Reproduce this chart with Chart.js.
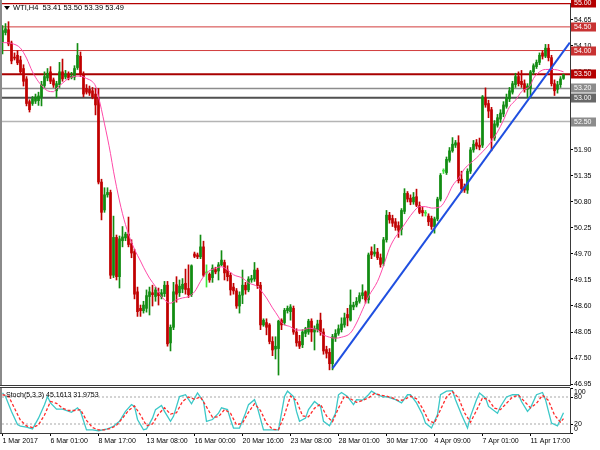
<!DOCTYPE html>
<html><head><meta charset="utf-8">
<script src="https://cdn.jsdelivr.net/npm/chart.js@4.4.1/dist/chart.umd.min.js"></script>
<style>
html,body{margin:0;padding:0;background:#fff;width:600px;height:450px;overflow:hidden;}
#wrap{position:relative;width:600px;height:450px;font-family:"Liberation Sans",Arial,sans-serif;}
canvas{position:absolute;left:0;}
#main{top:0;}
#stoch{top:378px;}
.lbl{position:absolute;color:#000;white-space:pre;line-height:10px;}
#tri{position:absolute;left:4px;top:6px;width:0;height:0;border-left:3px solid transparent;border-right:3px solid transparent;border-top:4px solid #000;}
</style></head><body>
<div id="wrap">
<canvas id="main" width="600" height="390"></canvas>
<canvas id="stoch" width="600" height="72"></canvas>
<div id="tri"></div>
<div class="lbl" id="hdr" style="left:13px;top:3px;font-size:7.5px;"></div>
<div class="lbl" id="stlbl" style="left:6px;top:389.5px;font-size:7px;"></div>
</div>
<script>
// ---------------- DATA ----------------
const symbolName = 'WTI,H4';
const opens = [
54.19,54.38,54.44,54.16,53.86,53.90,53.80,53.62,53.40,52.92,
52.88,52.93,52.94,53.02,53.26,53.42,53.55,53.38,53.15,53.28,
53.55,53.44,53.50,53.43,53.44,53.64,53.88,53.50,53.20,53.18,
53.15,53.08,53.00,51.22,50.63,50.95,51.00,49.25,50.05,49.22,
49.98,50.04,50.12,49.92,49.75,48.90,48.55,48.50,48.55,48.80,
48.88,48.80,48.88,48.80,48.86,49.04,47.82,48.15,49.05,48.88,
48.96,49.08,48.97,48.84,49.70,49.68,49.64,49.85,49.30,49.27,
49.20,49.37,49.34,49.47,49.52,49.36,49.25,49.00,48.92,48.60,
48.83,49.04,48.94,49.15,49.17,49.36,49.04,48.20,48.25,48.20,
47.85,47.69,47.70,48.30,48.25,48.50,48.48,48.55,48.05,47.85,
47.78,48.02,48.05,48.28,48.05,48.10,48.30,48.05,47.68,47.62,
47.38,47.92,48.02,48.10,48.20,48.42,48.30,48.58,48.62,48.70,
48.82,48.90,48.73,49.75,49.70,49.74,49.62,49.50,50.00,50.52,
50.45,50.38,50.30,50.22,50.60,50.98,50.88,50.80,50.91,50.72,
50.62,50.56,50.50,50.45,50.28,50.44,50.86,51.45,51.42,51.68,
51.88,52.00,52.05,51.28,51.12,51.05,51.45,51.90,52.05,52.00,
52.00,53.00,52.88,52.75,52.15,52.42,52.55,52.66,52.82,52.98,
53.12,53.28,53.45,53.35,53.30,53.18,53.20,53.55,53.66,53.75,
53.95,53.88,54.05,53.85,53.30,53.18,53.28,53.41];
const highs = [
54.53,54.57,54.61,54.20,53.95,54.00,53.88,53.70,53.45,52.96,
53.03,53.08,53.12,53.35,53.55,53.62,53.66,53.42,53.35,53.75,
53.82,53.58,53.55,53.54,53.68,54.15,53.97,53.55,53.28,53.25,
53.22,53.20,53.20,51.28,51.10,51.10,51.05,50.50,50.10,50.08,
50.28,50.16,50.48,50.00,49.80,49.00,48.62,48.70,48.94,49.00,
49.04,49.00,48.98,48.95,49.12,49.12,48.20,49.10,49.22,49.15,
49.18,49.38,49.47,49.47,49.74,49.72,50.10,49.97,49.47,49.30,
49.47,49.42,49.52,49.77,49.57,49.45,49.30,49.08,48.97,48.90,
49.36,49.10,49.22,49.25,49.52,49.40,49.10,48.33,48.33,48.23,
47.95,47.95,48.30,48.33,48.55,48.60,48.63,48.60,48.12,47.98,
48.10,48.15,48.32,48.33,48.18,48.30,48.45,48.12,47.75,47.70,
48.00,48.10,48.20,48.35,48.45,48.55,48.94,48.68,48.78,48.88,
49.05,48.92,49.72,49.85,49.90,49.82,49.70,50.05,50.62,50.58,
50.52,50.45,50.38,50.66,51.08,51.02,50.95,51.00,51.07,50.80,
50.70,50.62,50.55,50.50,50.48,50.90,51.40,51.50,51.75,51.95,
52.16,52.10,52.20,51.45,51.18,51.50,51.95,52.10,52.12,52.15,
53.05,53.21,52.95,52.80,52.52,52.65,52.75,52.92,53.08,53.22,
53.35,53.52,53.55,53.58,53.38,53.30,53.58,53.72,53.80,53.95,
54.00,54.13,54.13,53.90,53.38,53.35,53.45,53.50];
const lows = [
53.93,54.33,54.10,53.72,53.80,53.70,53.50,53.25,52.83,52.70,
52.84,52.88,52.84,52.83,53.22,53.36,53.30,53.22,53.00,53.22,
53.35,53.40,53.38,53.40,53.38,53.60,53.45,53.02,53.08,53.05,
52.98,52.64,51.18,50.42,50.58,50.90,49.18,49.20,49.15,48.98,
49.85,49.98,49.85,49.62,48.75,48.38,48.38,48.45,48.47,48.41,
48.60,48.70,48.62,48.75,48.80,47.75,47.65,48.10,48.68,48.80,
48.88,48.85,48.78,48.80,49.62,49.60,49.60,49.22,49.00,49.10,
49.10,49.28,49.15,49.45,49.15,49.13,48.83,48.85,48.55,48.45,
48.65,48.85,48.90,49.10,49.12,48.97,48.10,48.17,47.99,47.80,
47.55,47.48,47.14,48.10,48.20,48.45,48.30,48.00,47.75,47.70,
47.72,47.95,48.00,47.85,47.67,48.05,47.98,47.58,47.50,47.25,
47.25,47.85,47.98,48.05,48.15,48.18,48.28,48.52,48.58,48.66,
48.75,48.66,48.66,49.60,49.65,49.58,49.42,49.45,49.95,50.35,
50.28,50.20,50.05,50.10,50.55,50.80,50.74,50.75,50.70,50.55,
50.50,50.50,50.30,50.22,50.14,50.40,50.82,51.40,51.38,51.64,
51.85,51.95,51.20,51.00,51.00,50.98,51.40,51.85,51.92,51.90,
51.95,52.80,52.58,51.88,52.10,52.38,52.48,52.60,52.78,52.92,
53.08,53.22,53.25,53.22,53.12,53.00,53.00,53.50,53.62,53.70,
53.82,53.85,53.78,53.25,53.05,53.10,53.22,53.39];
const closes = [
54.42,54.46,54.14,53.78,53.84,53.74,53.55,53.35,52.88,52.75,
52.98,53.02,53.04,53.28,53.45,53.52,53.35,53.27,53.30,53.55,
53.40,53.50,53.42,53.46,53.62,53.90,53.50,53.08,53.12,53.10,
53.02,52.85,51.22,50.58,50.95,51.00,49.25,50.05,49.22,50.02,
50.06,50.12,49.90,49.72,48.85,48.48,48.50,48.62,48.82,48.90,
48.84,48.94,48.82,48.88,49.04,47.80,48.15,48.90,48.85,49.02,
49.06,48.95,48.84,49.45,49.65,49.64,49.85,49.25,49.30,49.15,
49.40,49.32,49.47,49.57,49.30,49.22,48.94,48.92,48.60,48.83,
49.04,48.94,49.17,49.18,49.36,49.03,48.20,48.30,48.15,47.85,
47.67,47.75,48.28,48.20,48.51,48.55,48.58,48.05,47.82,47.75,
48.05,48.12,48.28,48.05,48.12,48.22,48.05,47.65,47.60,47.38,
47.95,48.02,48.12,48.22,48.35,48.35,48.62,48.62,48.70,48.82,
48.88,48.73,49.68,49.68,49.74,49.62,49.48,50.00,50.52,50.42,
50.35,50.26,50.20,50.62,50.98,50.86,50.80,50.90,50.73,50.58,
50.57,50.56,50.38,50.28,50.44,50.86,51.36,51.45,51.70,51.88,
52.02,52.05,51.25,51.08,51.05,51.45,51.90,52.02,51.98,51.96,
53.02,52.85,52.72,52.15,52.45,52.58,52.68,52.85,53.00,53.15,
53.30,53.45,53.30,53.28,53.18,53.25,53.55,53.68,53.75,53.90,
53.88,54.05,53.85,53.30,53.15,53.28,53.40,53.49];

// moving average
const maBars = [0,3,6,8,10,12,14,15,17,18,20,22,25,26,28,30,31,32,33,34,35,36,37,38,39,40,41,42,43,44,45,46,47,49,51,53,56,58,60,62,64,66,67,68,71,73,75,77,80,82,85,86,88,90,92,93,96,98,100,102,105,107,109,111,113,116,118,120,122,125,127,129,131,132,135,137,139,141,143,146,148,150,152,154,156,158,160,162,165,167,169,171,173,176,177,179,181,183,185,187];
const maVals = [54.17,54.15,54.05,53.84,53.55,53.34,53.20,53.15,53.13,53.20,53.31,53.41,53.46,53.46,53.41,53.34,53.25,53.02,52.75,52.45,52.15,51.82,51.45,51.12,50.82,50.55,50.32,50.12,49.95,49.80,49.67,49.55,49.42,49.19,49.01,48.80,48.66,48.73,48.77,48.80,48.90,49.12,49.22,49.30,49.40,49.43,49.36,49.26,49.19,49.09,49.01,48.94,48.77,48.56,48.37,48.25,48.16,48.09,48.09,48.13,48.09,47.99,47.94,47.92,47.94,48.03,48.24,48.52,48.80,49.12,49.45,49.82,50.06,50.14,50.42,50.59,50.70,50.70,50.67,50.70,50.88,51.14,51.30,51.50,51.62,51.73,51.86,52.00,52.28,52.53,52.81,52.95,53.13,53.27,53.41,53.55,53.60,53.60,53.59,53.55];

// trend line (two anchor points)
const trendBars = [110, 189.1];
const trendPrices = [47.28, 54.17];

// horizontal levels
const levelPrices = [55.00, 54.50, 54.00, 53.50, 53.20, 53.00, 52.50];

// price axis ticks
const priceTicks = [46.95, 47.50, 48.05, 48.60, 49.15, 49.70, 50.25, 50.80, 51.35, 51.90, 52.45, 53.00, 53.55, 54.10, 54.65];

// time axis
const xTickBars = [0, 16, 32, 48, 64, 80, 96, 112, 128, 144, 160, 176];
const xTickLabels = ['1 Mar 2017','6 Mar 01:00','8 Mar 17:00','13 Mar 08:00','16 Mar 00:00','20 Mar 16:00','23 Mar 08:00','28 Mar 01:00','30 Mar 17:00','4 Apr 09:00','7 Apr 01:00','11 Apr 17:00'];

// stochastic (5,3,3)
const stochName = 'Stoch(5,3,3)';
const stochLast = [45.1613, 31.9753];
const kBars = [0,1,3,5,6,8,10,12,14,15,16,18,20,23,25,26,28,30,32,35,37,39,41,43,44,45,47,48,50,51,53,54,56,57,59,61,63,65,67,68,70,72,73,75,76,77,79,81,82,84,85,87,90,92,94,95,97,98,99,101,102,104,106,107,109,111,112,113,115,117,118,120,122,123,125,127,128,131,133,135,136,138,140,141,143,145,146,148,150,151,153,155,156,158,159,161,162,165,166,168,170,172,173,175,176,178,180,181,182,183,185,187];
const kVals = [89,81,48,19,15,13,9,33,63,81,67,53,53,46,56,48,7,7,5,9,15,26,48,63,59,30,7,9,33,52,61,48,26,37,81,85,65,89,70,26,30,44,56,52,30,11,11,44,63,74,56,7,7,7,81,93,81,48,26,33,52,70,59,26,16,44,85,90,81,63,74,73,85,93,85,80,81,74,67,85,85,67,41,22,11,41,85,93,94,74,41,11,37,74,89,78,59,44,59,80,85,85,70,48,56,85,90,74,48,22,16,45.16];
const dBars = [0,2,4,6,8,10,12,14,16,18,20,22,24,26,28,30,32,34,36,38,40,42,44,46,48,50,52,54,56,58,60,62,64,66,68,70,72,74,76,78,80,82,84,86,88,90,92,94,96,98,100,102,104,106,108,110,112,114,116,118,120,122,124,126,128,130,132,134,136,138,140,142,144,146,148,150,152,154,156,158,160,162,164,166,168,170,172,174,176,178,180,182,184,186,187];
const dVals = [85,82,55,28,16,12,18,40,70,66,55,50,50,52,28,12,7,7,10,17,33,50,60,40,16,20,42,56,42,45,70,80,75,80,58,35,36,52,44,18,22,46,65,50,22,8,7,40,82,72,38,36,55,64,38,25,55,82,76,68,72,78,88,84,82,78,72,74,82,76,55,28,22,52,80,92,78,45,24,50,78,74,55,52,66,80,84,70,56,66,84,72,40,24,31.98];
const stochLevels = [80, 20];
const stochTicks = [0, 20, 80, 100];

// ---------------- STYLE ----------------
const FONT = '"Liberation Sans", Arial, sans-serif';
const BULL = '#128c12', BEAR = '#c00000', DOJI = '#3ce63c';
const MA_COLOR = '#ff4aa8', TREND_COLOR = '#1f4fe0';
const K_COLOR = '#3cc8c8', D_COLOR = '#ff2a2a';
const levelColors = ['#b40000','#d23c3c','#d23c3c','#a80000','#8c8c8c','#505050','#b4b4b4'];
const levelWidths = [2,1,1,2,1.5,2,1.5];
const boxColors = ['#b40000','#c83232','#c83232','#b40000','#8c8c8c','#686868','#8c8c8c'];
const X_MIN = -1/6, X_MAX = X_MIN + 568/3;
const AXIS_W = 30;

Chart.defaults.font.family = FONT;
Chart.defaults.font.size = 7;
Chart.defaults.color = '#000';

// header texts
const last = opens.length - 1;
document.getElementById('hdr').textContent =
  symbolName + '  ' + [opens[last], highs[last], lows[last], closes[last]].map(v => v.toFixed(2)).join(' ');
document.getElementById('stlbl').textContent =
  stochName + ' ' + stochLast[0].toFixed(4) + ' ' + stochLast[1].toFixed(4);

// ---------------- BUILD ----------------
const idx = opens.map((_, i) => i);
const candleColors = idx.map(i => closes[i] > opens[i] ? BULL : (closes[i] < opens[i] ? BEAR : DOJI));
const wickData = idx.map(i => ({x: i, y: [lows[i], highs[i]]}));
const bodyData = idx.map(i => ({x: i, y: [opens[i], closes[i]]}));
const maData = maBars.map((b, k) => ({x: b, y: maVals[k]}));
const trendData = trendBars.map((b, k) => ({x: b, y: trendPrices[k]}));

const levelSets = levelPrices.map((p, k) => ({
  type: 'line', data: [{x: X_MIN, y: p}, {x: X_MAX, y: p}],
  borderColor: levelColors[k], borderWidth: levelWidths[k], pointRadius: 0, order: 10
}));

const framePlugin = {
  id: 'frame',
  afterDraw(chart, args, opts) {
    const {ctx, chartArea: a} = chart;
    ctx.save();
    ctx.strokeStyle = '#8a8a8a'; ctx.lineWidth = 2;
    ctx.beginPath(); ctx.moveTo(a.left - 1, opts.top ? a.top - 1 : 0); ctx.lineTo(a.left - 1, a.bottom + 1); ctx.stroke();
    ctx.strokeStyle = '#3a3a3a'; ctx.lineWidth = 1;
    ctx.beginPath(); ctx.moveTo(0, a.bottom + 0.5); ctx.lineTo(a.right, a.bottom + 0.5); ctx.stroke();
    if (opts.top) {
      ctx.beginPath(); ctx.moveTo(0, a.top - 0.5); ctx.lineTo(a.right, a.top - 0.5); ctx.stroke();
    }
    ctx.restore();
  }
};

const levelLabelPlugin = {
  id: 'levelLabels',
  afterDraw(chart) {
    const {ctx} = chart; const ys = chart.scales.y;
    ctx.save();
    ctx.font = '7px ' + FONT; ctx.textBaseline = 'middle'; ctx.textAlign = 'left';
    levelPrices.forEach((p, k) => {
      const py = Math.round(ys.getPixelForValue(p));
      ctx.fillStyle = boxColors[k];
      ctx.fillRect(ys.left + 1, py - 4.5, 25, 9);
      ctx.fillStyle = '#ffffff';
      ctx.fillText(p.toFixed(2), ys.left + 4, py + 0.5);
    });
    ctx.restore();
  }
};

const stochLabelPlugin = {
  id: 'stochLabels',
  afterDraw(chart) {
    const {ctx} = chart; const ys = chart.scales.y;
    ctx.save();
    ctx.font = '7px ' + FONT; ctx.textBaseline = 'middle'; ctx.textAlign = 'left'; ctx.fillStyle = '#000';
    stochTicks.forEach(v => {
      let py = ys.getPixelForValue(v);
      py = Math.max(ys.top + 4, Math.min(ys.bottom - 4, py));
      ctx.fillText(String(v), ys.left + 4, py);
    });
    ctx.restore();
  }
};

new Chart(document.getElementById('main'), {
  type: 'bar',
  data: {
    datasets: [
      ...levelSets,
      {type: 'bar', data: wickData, backgroundColor: candleColors, barThickness: 1, grouped: false, order: 5},
      {type: 'bar', data: bodyData, backgroundColor: candleColors, barThickness: 2, grouped: false, minBarLength: 1, order: 4},
      {type: 'line', data: maData, borderColor: MA_COLOR, borderWidth: 1, pointRadius: 0, cubicInterpolationMode: 'monotone', order: 3},
      {type: 'line', data: trendData, borderColor: TREND_COLOR, borderWidth: 2, pointRadius: 0, order: 2}
    ]
  },
  options: {
    responsive: false, animation: false, events: [],
    layout: {padding: {left: 2, top: 3, right: 0, bottom: 5}},
    plugins: {legend: {display: false}, tooltip: {enabled: false}, frame: {top: false}},
    scales: {
      x: {type: 'linear', min: X_MIN, max: X_MAX, display: false, offset: false, bounds: 'data'},
      y: {
        type: 'linear', position: 'right', min: 46.93, max: 55.005, bounds: 'data',
        afterFit: s => { s.width = AXIS_W; s.paddingTop = 0; s.paddingBottom = 0; },
        afterBuildTicks: s => { s.ticks = priceTicks.map(v => ({value: v})); },
        ticks: {autoSkip: false, padding: 1, color: '#000', font: {size: 7}, callback: v => Number(v).toFixed(2)},
        grid: {drawOnChartArea: false, drawTicks: true, tickLength: 3, color: '#000'},
        border: {display: true, color: '#3a3a3a'}
      }
    }
  },
  plugins: [framePlugin, levelLabelPlugin]
});

new Chart(document.getElementById('stoch'), {
  type: 'line',
  data: {
    datasets: [
      ...stochLevels.map(v => ({data: [{x: X_MIN, y: v}, {x: X_MAX, y: v}], borderColor: '#a8a8a8', borderDash: [2, 2], borderWidth: 1, pointRadius: 0, order: 5})),
      {data: kBars.map((b, k) => ({x: b, y: kVals[k]})), borderColor: K_COLOR, borderWidth: 1.3, pointRadius: 0, order: 2},
      {data: dBars.map((b, k) => ({x: b, y: dVals[k]})), borderColor: D_COLOR, borderWidth: 1.3, borderDash: [3, 2], pointRadius: 0, order: 1}
    ]
  },
  options: {
    responsive: false, animation: false, events: [],
    layout: {padding: {left: 2, top: 10, right: 0, bottom: 0}},
    plugins: {legend: {display: false}, tooltip: {enabled: false}, frame: {top: true}},
    scales: {
      x: {
        type: 'linear', min: X_MIN, max: X_MAX, offset: false, bounds: 'data',
        afterFit: s => { s.height = 17; s.paddingLeft = 0; s.paddingRight = 0; },
        afterBuildTicks: s => { s.ticks = xTickBars.map(v => ({value: v})); },
        ticks: {autoSkip: false, maxRotation: 0, minRotation: 0, align: 'start', padding: 1, color: '#000', font: {size: 7},
          callback: v => xTickLabels[xTickBars.indexOf(v)]},
        grid: {drawOnChartArea: false, drawTicks: true, tickLength: 3, color: '#000'},
        border: {display: true, color: '#3a3a3a'}
      },
      y: {
        type: 'linear', position: 'right', min: 0, max: 100, bounds: 'data',
        afterFit: s => { s.width = AXIS_W; s.paddingTop = 0; s.paddingBottom = 0; },
        afterBuildTicks: s => { s.ticks = stochTicks.map(v => ({value: v})); },
        ticks: {display: false},
        grid: {drawOnChartArea: false, drawTicks: true, tickLength: 3, color: '#000'},
        border: {display: true, color: '#3a3a3a'}
      }
    }
  },
  plugins: [framePlugin, stochLabelPlugin]
});
</script>
</body></html>
